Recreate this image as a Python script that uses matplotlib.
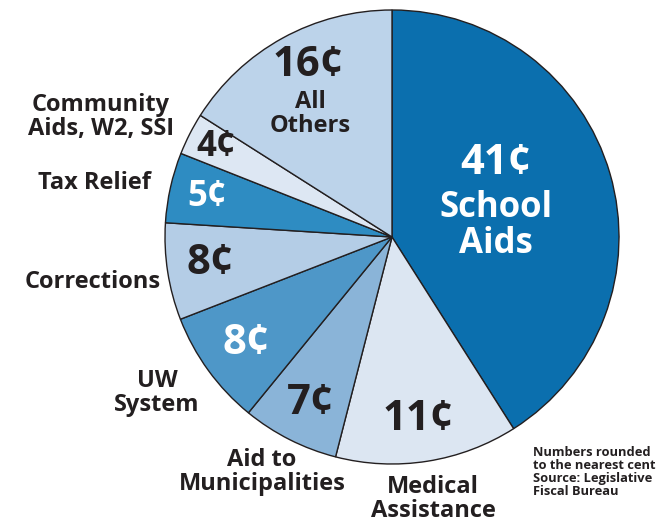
import matplotlib
matplotlib.use("Agg")
import matplotlib.pyplot as plt

# статьи бюджета, по часовой стрелке от верха
labels = ["School Aids", "Medical Assistance", "Aid to Municipalities", "UW System",
          "Corrections", "Tax Relief", "Community Aids, W2, SSI", "All Others"]
# подписи (центы с доллара)
cents = [41, 11, 7, 8, 8, 5, 4, 16]
# размеры секторов, как они нарисованы на картинке (в %)
shares = [41.0, 13.0, 6.9, 8.2, 6.9, 5.0, 3.0, 16.0]
colors = ["#0b6fae", "#dce6f2", "#8ab4d8", "#4e97c8",
          "#b4cde6", "#2e8cc2", "#dde7f3", "#bcd3ea"]
num_colors = ["white", "#231f20", "#231f20", "white",
              "#231f20", "white", "#231f20", "#231f20"]

W, H = 663, 524
cx, cy, r = 392, H - 237, 227

fig = plt.figure(figsize=(W / 100, H / 100), dpi=100)
ax = fig.add_axes([0, 0, 1, 1])

ax.pie(shares, colors=colors, startangle=90, counterclock=False,
       center=(cx, cy), radius=r, frame=True,
       wedgeprops=dict(edgecolor="#231f20", linewidth=1.0))
ax.set_xlim(0, W)
ax.set_ylim(0, H)
ax.set_aspect("equal")
ax.axis("off")

big = "Open Sans"
dark = "#231f20"

# подписи внутри секторов (пиксели картинки)
num_pos = [(496, 163), (418, 420), (311, 403), (246, 344),
           (210, 264), (207, 197), (216, 147), (308, 66)]
num_size = [30, 30, 30, 30, 30, 25, 25, 30]
for i in range(len(cents)):
    x, y = num_pos[i]
    ax.text(x, H - y, str(cents[i]) + "¢", ha="center", va="center",
            fontsize=num_size[i], fontweight="bold", color=num_colors[i],
            family=big)

ax.text(496, H - 226, "School\nAids", ha="center", va="center", fontsize=25,
        fontweight="bold", color="white", family=big, linespacing=1.0)
ax.text(310, H - 114, "All\nOthers", ha="center", va="center", fontsize=17,
        fontweight="bold", color=dark, family=big, linespacing=1.0)

# подписи снаружи
outside = [("Community\nAids, W2, SSI", 101, 117), ("Tax Relief", 94, 183),
           ("Corrections", 93, 282), ("UW\nSystem", 157, 393),
           ("Aid to\nMunicipalities", 262, 472), ("Medical\nAssistance", 433, 499)]
for txt, x, y in outside:
    ax.text(x, H - y, txt, ha="center", va="center", fontsize=17,
            fontweight="bold", color=dark, family=big, linespacing=1.0)

# примечание
ax.text(533, H - 472, "Numbers rounded\nto the nearest cent\nSource: Legislative\nFiscal Bureau",
        ha="left", va="center", fontsize=9.3, fontweight="bold", color=dark,
        family=big, linespacing=1.0)

fig.savefig("out.png", dpi=100)
